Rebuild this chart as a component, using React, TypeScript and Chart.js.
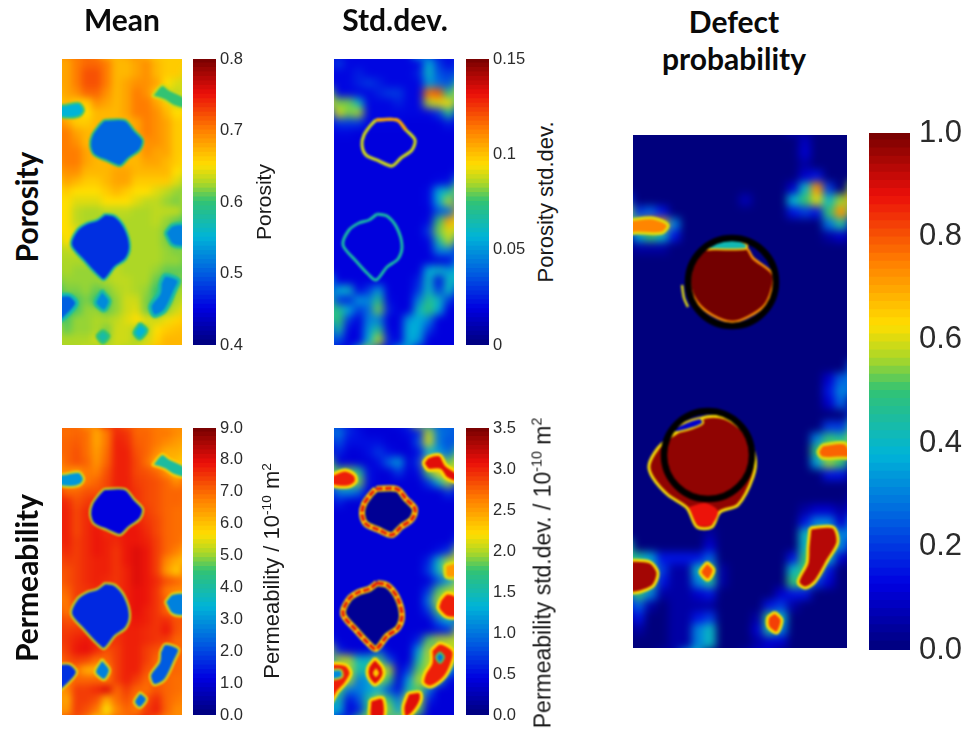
import React, { useEffect, useRef } from "react";
import { Chart, registerables } from "chart.js";
Chart.register(...registerables);

const porosityMean = [
[.68,.70,.71,.71,.70,.67,.67,.68,.69,.67,.66,.66],
[.68,.70,.72,.72,.70,.67,.67,.68,.69,.67,.66,.66],
[.68,.70,.72,.72,.70,.67,.68,.69,.69,.68,.65,.64],
[.68,.69,.71,.71,.69,.67,.68,.70,.69,.66,.64,.63],
[.67,.66,.66,.69,.68,.67,.68,.70,.70,.68,.66,.64],
[.66,.66,.65,.67,.67,.67,.68,.70,.70,.69,.67,.65],
[.68,.66,.66,.67,.67,.67,.67,.68,.70,.69,.68,.66],
[.70,.68,.67,.67,.67,.67,.67,.68,.70,.69,.68,.66],
[.70,.69,.67,.67,.67,.67,.67,.67,.69,.69,.68,.66],
[.70,.70,.68,.67,.67,.67,.67,.67,.69,.68,.68,.66],
[.70,.70,.68,.67,.67,.67,.67,.67,.68,.68,.67,.66],
[.69,.69,.67,.67,.67,.68,.68,.67,.67,.67,.67,.65],
[.68,.67,.66,.66,.67,.68,.68,.66,.66,.66,.66,.64],
[.66,.65,.65,.65,.66,.67,.66,.65,.65,.64,.63,.62],
[.65,.64,.64,.64,.65,.65,.65,.64,.63,.63,.62,.615],
[.65,.63,.625,.625,.63,.63,.63,.625,.625,.63,.63,.63],
[.65,.63,.625,.625,.625,.625,.625,.625,.625,.63,.62,.61],
[.65,.64,.625,.625,.625,.625,.625,.625,.625,.625,.615,.60],
[.65,.64,.625,.625,.625,.625,.625,.625,.625,.625,.615,.60],
[.63,.63,.625,.625,.625,.625,.625,.625,.625,.625,.62,.615],
[.625,.625,.625,.625,.63,.625,.625,.625,.625,.625,.62,.62],
[.625,.62,.62,.62,.625,.63,.625,.625,.625,.62,.61,.61],
[.62,.62,.62,.62,.625,.63,.63,.625,.625,.61,.60,.61],
[.615,.615,.62,.61,.615,.625,.63,.625,.62,.60,.60,.62],
[.60,.605,.615,.60,.605,.62,.635,.635,.615,.60,.605,.625],
[.60,.605,.62,.62,.61,.62,.635,.64,.615,.605,.62,.635],
[.605,.62,.62,.625,.625,.63,.64,.65,.64,.635,.645,.655],
[.61,.62,.62,.625,.615,.635,.635,.625,.625,.65,.66,.665],
[.625,.625,.625,.635,.62,.635,.635,.625,.635,.655,.67,.67],
];
const porosityStd = [
[.03,.02,.02,.02,.02,.02,.02,.02,.02,.055,.03,.02],
[.02,.02,.025,.02,.02,.02,.02,.02,.025,.06,.035,.03],
[.02,.02,.025,.03,.025,.02,.02,.02,.02,.05,.04,.035],
[.02,.02,.02,.02,.025,.03,.03,.02,.02,.115,.12,.07],
[.08,.08,.06,.02,.02,.02,.025,.02,.02,.085,.09,.095],
[.09,.08,.085,.02,.02,.02,.02,.02,.02,.02,.03,.07],
[.03,.03,.03,.02,.02,.02,.02,.018,.018,.018,.018,.025],
[.02,.02,.018,.018,.018,.018,.018,.018,.018,.018,.018,.018],
[.018,.018,.018,.018,.018,.018,.018,.018,.018,.018,.018,.018],
[.018,.018,.018,.018,.018,.018,.018,.018,.018,.018,.018,.018],
[.018,.018,.018,.018,.018,.018,.018,.018,.018,.018,.018,.018],
[.018,.018,.018,.018,.018,.018,.018,.018,.018,.018,.018,.018],
[.018,.018,.018,.018,.018,.018,.018,.018,.018,.018,.02,.022],
[.018,.018,.018,.018,.018,.018,.018,.018,.018,.02,.055,.065],
[.018,.018,.018,.018,.018,.018,.018,.018,.018,.02,.055,.085],
[.018,.018,.018,.018,.018,.018,.018,.018,.018,.018,.035,.04],
[.018,.018,.018,.018,.018,.018,.018,.018,.018,.02,.075,.105],
[.018,.018,.018,.018,.018,.018,.018,.018,.018,.03,.08,.09],
[.018,.018,.018,.018,.018,.018,.018,.018,.018,.02,.065,.085],
[.018,.018,.018,.018,.018,.018,.018,.018,.018,.018,.045,.045],
[.018,.018,.018,.018,.018,.018,.018,.018,.018,.018,.018,.02],
[.018,.018,.018,.018,.018,.018,.018,.018,.018,.055,.06,.05],
[.018,.018,.018,.018,.018,.018,.018,.018,.025,.06,.02,.06],
[.055,.06,.02,.03,.05,.018,.018,.018,.03,.06,.03,.06],
[.03,.025,.05,.045,.07,.02,.018,.018,.045,.07,.06,.03],
[.07,.055,.03,.04,.08,.025,.018,.018,.06,.075,.055,.018],
[.075,.03,.018,.045,.045,.018,.018,.05,.055,.045,.018,.018],
[.065,.02,.018,.05,.07,.02,.018,.055,.055,.03,.018,.018],
[.035,.018,.018,.055,.085,.025,.018,.055,.05,.018,.018,.018],
];
const permeabilityMean = [
[6.9,7.0,6.9,6.3,6.8,7.6,7.5,7.0,7.0,6.8,6.8,6.6],
[7.0,7.1,6.9,6.3,6.8,7.7,7.6,7.1,7.0,6.8,6.6,6.4],
[7.0,7.2,6.9,6.4,6.9,7.7,7.7,7.2,7.0,6.6,6.2,6.2],
[7.0,7.2,7.0,6.5,7.0,7.7,7.7,7.3,6.9,6.2,6.2,6.0],
[6.6,6.4,6.8,6.7,7.2,7.7,7.7,7.3,7.2,7.0,6.5,5.8],
[6.4,6.3,6.8,7.0,7.3,7.7,7.7,7.4,7.3,7.2,7.0,6.6],
[7.0,7.0,7.2,7.2,7.3,7.7,7.7,7.5,7.3,7.2,7.0,7.0],
[7.6,7.2,7.4,7.6,7.6,7.7,7.7,7.5,7.3,7.2,7.0,7.0],
[7.7,7.3,7.6,7.7,7.6,7.7,7.7,7.6,7.4,7.2,7.0,6.9],
[7.7,7.3,7.6,7.7,7.6,7.7,7.8,7.7,7.5,7.3,7.0,6.9],
[7.7,7.3,7.6,7.8,7.6,7.7,7.8,7.8,7.6,7.3,7.0,6.9],
[7.7,7.4,7.6,7.8,7.7,7.6,7.8,7.8,7.7,7.4,7.0,6.9],
[7.6,7.4,7.6,7.8,7.7,7.5,7.8,8.0,7.8,7.4,7.0,6.7],
[7.4,7.4,7.6,7.7,7.7,7.5,7.8,8.0,7.8,7.4,6.6,6.2],
[7.2,7.4,7.6,7.7,7.7,7.5,7.7,8.0,7.8,7.4,6.4,5.9],
[7.2,7.4,7.6,7.7,7.6,7.5,7.7,8.0,7.8,7.6,7.2,7.0],
[7.0,7.4,7.5,7.6,7.6,7.5,7.7,7.9,7.8,7.5,6.8,6.6],
[6.8,7.4,7.5,7.6,7.6,7.5,7.7,7.9,7.8,7.5,7.0,6.6],
[6.8,7.2,7.5,7.6,7.6,7.5,7.7,7.9,7.7,7.5,7.0,6.8],
[7.2,7.2,7.5,7.6,7.6,7.5,7.7,7.8,7.7,7.5,7.6,7.2],
[7.4,7.5,7.5,7.6,7.6,7.5,7.7,7.7,7.6,7.5,7.8,7.2],
[7.5,7.7,7.8,7.6,7.6,7.5,7.7,7.7,7.6,7.5,7.4,7.0],
[7.4,7.8,7.9,7.6,7.2,7.4,7.7,7.7,7.4,7.2,7.0,7.0],
[7.2,7.4,7.3,6.9,7.0,7.4,7.7,7.7,7.4,7.0,7.0,7.0],
[6.8,6.8,6.2,6.1,6.6,7.4,7.7,7.7,7.2,7.0,7.0,7.0],
[6.8,7.0,7.0,7.0,6.8,7.4,7.7,7.4,7.0,7.0,7.0,6.9],
[6.6,7.4,7.4,7.6,8.0,7.0,7.4,7.0,6.9,7.2,7.0,6.9],
[6.2,7.4,7.4,7.2,6.2,6.9,7.2,6.8,7.2,7.6,7.0,6.8],
[6.4,7.4,7.2,6.8,5.6,6.6,7.0,6.8,7.4,7.7,7.0,6.6],
];
const permeabilityStd = [
[1.0,.6,.5,.4,.4,.4,.4,.5,.6,2.0,1.0,.9],
[.8,.5,.5,.5,.5,.4,.4,.4,.8,2.1,1.0,.8],
[.6,.4,.4,.5,.7,.5,.4,.4,.5,1.3,1.2,.9],
[.4,.4,.4,.4,.5,.9,1.2,.4,.7,2.2,2.4,1.8],
[1.8,1.9,1.6,.5,.4,.4,.7,.4,.5,1.8,2.2,2.2],
[1.9,1.8,1.9,.5,.4,.4,.4,.4,.4,.7,1.4,2.0],
[1.0,1.1,.9,.4,.4,.4,.4,.4,.4,.4,.4,.7],
[.6,.4,.4,.4,.4,.4,.4,.4,.4,.4,.4,.4],
[.4,.4,.4,.4,.4,.4,.4,.4,.4,.4,.4,.4],
[.4,.4,.4,.4,.4,.4,.4,.4,.4,.4,.4,.4],
[.4,.4,.4,.4,.4,.4,.4,.4,.4,.4,.4,.4],
[.4,.4,.4,.4,.4,.4,.4,.4,.4,.4,.4,.4],
[.4,.4,.4,.4,.4,.4,.4,.4,.4,.4,.5,.7],
[.4,.4,.4,.4,.4,.4,.4,.4,.4,.6,1.4,2.0],
[.4,.4,.4,.4,.4,.4,.4,.4,.4,.7,1.4,2.1],
[.4,.4,.4,.4,.4,.4,.4,.4,.4,.4,.8,1.2],
[.4,.4,.4,.4,.4,.4,.4,.4,.4,.7,1.8,2.0],
[.4,.4,.4,.4,.4,.4,.4,.4,.4,1.0,2.0,2.0],
[.4,.4,.4,.4,.4,.4,.4,.4,.4,.7,1.8,2.0],
[.4,.4,.4,.4,.4,.4,.4,.4,.4,.4,.9,1.3],
[.4,.4,.4,.4,.4,.4,.4,.4,.4,.4,.5,.6],
[.4,.4,.4,.4,.4,.4,.4,.4,.6,1.8,2.0,2.0],
[.6,.4,.4,.4,.8,.4,.4,.4,1.2,2.0,1.0,2.0],
[2.0,2.0,1.4,1.4,1.8,.8,.4,.4,1.5,2.0,1.8,2.0],
[1.0,2.0,1.5,1.6,2.0,2.0,.4,.7,1.8,2.0,2.0,1.3],
[1.8,2.0,1.0,1.2,2.0,1.7,.4,1.2,2.0,2.0,1.6,.5],
[1.8,1.0,1.0,1.2,1.3,.8,.5,1.5,1.8,1.0,.4,.4],
[1.5,.5,.8,1.6,2.0,1.7,1.0,2.0,2.0,.6,.4,.4],
[1.3,.4,.6,1.7,2.0,1.9,1.2,2.0,1.8,.4,.4,.4],
];
const defectProbability = [
[0,0,0,0,0,0,0,0,0,0,0,0,0,0,.08,0,0,0],
[0,0,0,0,0,0,0,0,0,0,0,0,0,0,.1,0,0,0],
[0,0,0,0,0,0,0,0,0,0,0,0,0,0,.05,0,0,0],
[0,0,0,0,0,0,0,0,0,0,0,0,0,0,.1,.15,0,0],
[0,0,0,0,0,0,0,0,0,0,0,0,0,.1,.4,.72,.2,0],
[0,0,0,0,0,0,0,0,0,.07,0,0,0,.38,.5,.6,.4,.55],
[.2,.25,.15,0,0,0,0,0,0,0,0,0,0,.15,.2,.15,.5,.72],
[.55,.8,.7,.3,0,0,0,0,0,0,0,0,0,0,0,0,.28,.45],
[.35,.5,.4,.15,0,0,0,0,0,0,0,0,0,0,0,0,.05,.1],
[.05,.05,.05,0,0,0,0,0,0,0,0,0,0,0,0,0,0,0],
[0,0,0,0,0,0,0,0,0,0,0,0,0,0,0,0,0,0],
[0,0,0,0,0,0,0,0,0,0,0,0,0,0,0,0,0,0],
[0,0,0,0,0,0,0,0,0,0,0,0,0,0,0,0,0,0],
[0,0,0,0,0,0,0,0,0,0,0,0,0,0,0,0,0,0],
[0,0,0,0,0,0,0,0,0,0,0,0,0,0,0,0,0,0],
[0,0,0,0,0,0,0,0,0,0,0,0,0,0,0,0,0,0],
[0,0,0,0,0,0,0,0,0,0,0,0,0,0,0,0,0,0],
[0,0,0,0,0,0,0,0,0,0,0,0,0,0,0,0,0,0],
[0,0,0,0,0,0,0,0,0,0,0,0,0,0,0,0,0,0],
[0,0,0,0,0,0,0,0,0,0,0,0,0,0,0,0,0,0],
[0,0,0,0,0,0,0,0,0,0,0,0,0,0,0,0,.1,.25],
[0,0,0,0,0,0,0,0,0,0,0,0,0,0,0,0,.15,.3],
[0,0,0,0,0,0,0,0,0,0,0,0,0,0,0,0,.1,.25],
[0,0,0,0,0,0,0,0,0,0,0,0,0,0,0,0,0,0],
[0,0,0,0,0,0,0,0,0,0,0,0,0,0,0,0,.2,.2],
[0,0,0,0,0,0,0,0,0,0,0,0,0,0,0,.3,.5,.45],
[0,0,0,0,0,0,0,0,0,0,0,0,0,0,0,.5,.55,.55],
[0,0,0,0,0,0,0,0,0,0,0,0,0,0,0,.35,.55,.5],
[0,0,0,0,0,0,0,0,0,0,0,0,0,0,0,0,.15,.15],
[0,0,0,0,0,0,0,0,0,0,0,0,0,0,0,0,0,0],
[0,0,0,0,0,0,0,0,0,0,0,0,0,0,0,0,0,0],
[0,0,0,0,0,0,0,0,0,0,0,0,0,0,.05,.1,.1,.05],
[0,0,0,0,0,0,0,0,0,0,0,0,0,0,.15,.3,.3,.1],
[0,0,0,0,0,0,.05,0,0,0,0,0,0,0,.4,.5,.5,.3],
[0,0,0,0,0,0,.1,0,0,0,0,0,0,0,.4,.5,.5,.3],
[.45,.35,.15,.15,.15,.15,.25,0,0,0,0,0,0,.15,.5,.5,.4,.1],
[.5,.5,.2,.05,.05,.4,.5,.05,0,0,0,0,0,.4,.5,.5,.15,0],
[.5,.5,.15,.05,.05,.3,.45,.05,0,0,0,0,0,.5,.5,.2,.1,0],
[.5,.3,.05,.05,.05,.1,.15,0,0,0,0,0,.1,.15,.15,0,0,0],
[.25,.05,0,.05,.05,.05,.05,0,0,0,0,.15,.2,.05,0,0,0,0],
[.15,0,0,.05,.05,.15,.2,0,0,0,.05,.5,.4,0,0,0,0,0],
[.05,0,0,.05,.05,.3,.4,0,0,0,.1,.45,.3,0,0,0,0,0],
[0,0,0,.05,.05,.3,.4,0,0,0,.05,.1,.1,0,0,0,0,0],
];

const upperHole = [[42,61],[63,61],[72,71],[81,81],[78,91],[67,99],[58,107],[45,102],[32,96],[28,86],[30,76],[37,66],[42,61]];
const lowerHole = [[43,155],[53,157],[63,169],[68,187],[64,200],[53,208],[42,221],[34,215],[22,202],[9,186],[15,171],[25,164],[35,161],[43,155]];
const leftBlob = [[3,46],[17,44],[22,51],[18,57],[8,59],[-3,57],[-3,47],[3,46]];
const topRightBlob = [[90,37],[100,26],[108,31],[123,39],[123,49],[112,47],[102,41],[90,37]];
const rightMidBlob = [[103,174],[110,166],[123,166],[123,187],[110,186],[103,174]];
const rightLongBlob = [[98,224],[103,216],[117,221],[113,232],[103,252],[92,257],[88,247],[97,234],[98,224]];
const bottomLeftBlob = [[-3,236],[8,236],[15,244],[8,254],[-3,262],[-3,236]];
const middleBlob = [[40,231],[48,242],[42,252],[33,244],[40,231]];
const bottomSmallBlob = [[78,264],[85,271],[78,280],[72,274],[78,264]];
const bottomMidBlob = [[41,271],[47,277],[41,284],[35,277],[41,271]];

const spreadTopRight = [[89,35],[94,29],[106,27],[112,37],[123,45],[123,54],[112,50],[106,42],[94,42],[89,35]];
const spreadLeft = [[-3,47],[11,42],[21,47],[22,54],[14,59],[-3,57],[-3,47]];
const spreadRightMid = [[106,172],[113,165],[123,169],[123,189],[112,189],[104,180],[106,172]];
const spreadRightUp = [[111,137],[123,135],[123,149],[112,149],[111,137]];
const spreadLong = [[97,222],[106,215],[119,222],[119,232],[111,249],[97,259],[89,255],[91,245],[97,235],[97,222]];
const spreadLongCore = [[106,224],[110,229],[106,235],[102,229],[106,224]];
const spreadBottomLong = [[74,265],[86,264],[87,272],[79,285],[71,290],[69,279],[74,265]];
const spreadBottomMid = [[36,272],[49,270],[50,290],[36,290],[36,272]];
const spreadMiddle = [[41,230],[49,240],[49,249],[41,257],[34,249],[34,239],[41,230]];
const spreadMiddleCore = [[42,240],[45,245],[42,249],[39,245],[42,240]];
const spreadBottomLeft = [[-3,235],[12,237],[17,245],[12,255],[4,264],[-3,275],[-3,235]];
const spreadBottomLeftCore = [[-3,242],[7,242],[8,249],[-3,251],[-3,242]];

const upperDefect = [[69,115],[112,112],[120,123],[139,138],[140,150],[132,170],[115,182],[99,187],[79,180],[64,167],[57,150],[60,130],[69,115]];
const lowerDefect = [[37,302],[69,283],[92,283],[112,298],[122,322],[120,342],[105,370],[87,377],[79,392],[64,392],[54,373],[35,360],[20,343],[16,330],[25,313],[37,302]];
const lowerTip = [[56,372],[72,368],[85,376],[78,390],[65,390],[56,372]];
const upperCap = [[72,114],[85,105],[100,103],[114,110],[112,114],[72,114]];
const lowerCap = [[37,297],[47,290],[67,283],[70,288],[60,293],[45,297],[37,297]];
const leftArc = [[49,150],[51,163],[55,172]];
const defectLeftTop = [[-3,85],[20,83],[35,90],[29,98],[4,98],[-3,98],[-3,85]];
const defectRightUpper = [[189,310],[212,308],[218,322],[205,323],[189,323],[185,317],[189,310]];
const defectLong = [[177,393],[200,392],[205,407],[195,425],[182,447],[172,453],[165,447],[174,428],[175,412],[177,393]];
const defectLeftLow = [[-3,425],[17,427],[25,438],[19,452],[-3,457],[-3,425]];
const defectMiddle = [[74,427],[81,435],[75,445],[67,437],[74,427]];
const defectBottom = [[142,477],[149,485],[144,498],[135,492],[135,482],[142,477]];
const ringCenters = [[99,147],[75,320]];

const porosityTicks = ["0.4","0.5","0.6","0.7","0.8"];
const porosityStdTicks = ["0","0.05","0.1","0.15"];
const permTicks = ["0.0","1.0","2.0","3.0","4.0","5.0","6.0","7.0","8.0","9.0"];
const permStdTicks = ["0.0","0.5","1.0","1.5","2.0","2.5","3.0","3.5"];
const defectTicks = ["0.0","0.2","0.4","0.6","0.8","1.0"];

const STOPS: [number, number[]][] = [
  [0,[0,0,125]],[.125,[0,0,225]],[.25,[0,95,225]],[.375,[0,180,215]],[.5,[50,195,115]],
  [.56,[170,215,40]],[.625,[255,222,0]],[.75,[255,125,0]],[.875,[235,15,10]],[1,[115,0,0]],
];
function colorOf(v: number, lo: number, hi: number) {
  const t = Math.max(0, Math.min(1, (v - lo) / (hi - lo)));
  for (let i = 1; i < STOPS.length; i++) {
    if (t <= STOPS[i][0]) {
      const [a, ca] = STOPS[i - 1]; const [b, cb] = STOPS[i];
      const f = (t - a) / (b - a);
      return `rgb(${ca.map((c, k) => Math.round(c + (cb[k] - c) * f)).join(",")})`;
    }
  }
  return "rgb(115,0,0)";
}
const pts = (p: number[][]) => p.map(([x, y]) => ({ x, y }));

type Shape = { p: number[][]; fill?: number; line?: number; width?: number; dash?: number[] };

const MARGIN = 14;
function baseOptions(w: number, h: number): any {
  return {
    responsive: false, animation: false, events: [],
    layout: { padding: 0, autoPadding: false },
    plugins: { legend: { display: false }, tooltip: { enabled: false }, title: { display: false } },
    scales: {
      x: { type: "linear", display: false, min: -MARGIN, max: w + MARGIN },
      y: { type: "linear", display: false, min: -MARGIN, max: h + MARGIN, reverse: true },
    },
  };
}

function Panel({ left, top, w, h, grid, lo, hi, shapes, blur, rings }: any) {
  const a = useRef<HTMLCanvasElement>(null);
  const b = useRef<HTMLCanvasElement>(null);
  useEffect(() => {
    const rows = grid.length, cols = grid[0].length;
    const cw = w / cols, ch = h / rows;
    const side = Math.max(cw, ch) + 1;
    const cells: any[] = [], edge: any[] = [];
    grid.forEach((row: number[], r: number) => row.forEach((v, c) => {
      const cell = { x: (c + .5) * cw, y: (r + .5) * ch, color: colorOf(v, lo, hi) };
      cells.push(cell);
      if (r === 0 || c === 0 || r === rows - 1 || c === cols - 1) edge.push(cell);
    }));
    const heat = new Chart(a.current!, {
      type: "scatter",
      data: { datasets: [
        { data: edge, order: 2, pointStyle: "rect", pointRadius: (side * 3) / Math.SQRT2,
          pointBackgroundColor: edge.map((d) => d.color), pointBorderWidth: 0, clip: false },
        { data: cells, order: 1, pointStyle: "rect", pointRadius: side / Math.SQRT2,
          pointBackgroundColor: cells.map((d) => d.color), pointBorderWidth: 0, clip: false },
      ] as any },
      options: baseOptions(w, h),
    });
    const sets: any[] = shapes.map((s: Shape, i: number) => ({
      type: "line", data: pts(s.p), order: shapes.length - i + 2, pointRadius: 0, tension: .3,
      fill: s.fill !== undefined ? "shape" : false,
      backgroundColor: s.fill !== undefined ? colorOf(s.fill, lo, hi) : "transparent",
      borderColor: s.line !== undefined ? colorOf(s.line, lo, hi) : "transparent",
      borderWidth: s.line !== undefined ? (s.width ?? 2.2) : 0,
      borderDash: s.dash ?? [],
    }));
    if (rings) {
      sets.push({ type: "scatter", data: pts(rings), order: 0, showLine: false, pointRadius: 44,
        pointBackgroundColor: "transparent", pointBorderColor: "#000", pointBorderWidth: 6.5 });
    }
    const over = new Chart(b.current!, {
      type: "scatter", data: { datasets: sets }, options: baseOptions(w, h),
    });
    return () => { heat.destroy(); over.destroy(); };
  }, []);
  const cs: any = { position: "absolute", left: -MARGIN, top: -MARGIN };
  const wrap: any = { position: "absolute", left, top, width: w, height: h, overflow: "hidden" };
  return (
    <>
      <div style={wrap}>
        <canvas ref={a} width={w + 2 * MARGIN} height={h + 2 * MARGIN} style={{ ...cs, filter: `blur(${blur}px)` }} />
      </div>
      <div style={wrap}>
        <canvas ref={b} width={w + 2 * MARGIN} height={h + 2 * MARGIN} style={{ ...cs, filter: "blur(0.8px)" }} />
      </div>
    </>
  );
}

const BAR_PAD = 40;
function ColorBar({ left, top, w, h, lo, hi, ticks, size, pad, axisW }: any) {
  const a = useRef<HTMLCanvasElement>(null);
  useEffect(() => {
    const n = 64;
    const levels = Array.from({ length: n }, (_, i) => i);
    const c = new Chart(a.current!, {
      type: "bar",
      data: { labels: [""], datasets: levels.map((i) => ({
        data: [[lo + ((hi - lo) * i) / n, lo + ((hi - lo) * (i + 1.15)) / n]] as any,
        backgroundColor: colorOf(lo + ((hi - lo) * (i + .5)) / n, lo, hi),
        grouped: false, barPercentage: 1, categoryPercentage: 1, borderWidth: 0,
      })) as any },
      options: {
        responsive: false, animation: false, events: [],
        layout: { padding: { top: BAR_PAD, bottom: BAR_PAD, left: 0, right: 0 }, autoPadding: false },
        plugins: { legend: { display: false }, tooltip: { enabled: false } },
        scales: {
          x: { display: false },
          y: {
            position: "right", min: lo, max: hi,
            grid: { display: false, drawTicks: false }, border: { display: false },
            afterBuildTicks: (s: any) => { s.ticks = ticks.map((t: string) => ({ value: parseFloat(t) })); },
            afterFit: (s: any) => { s.width = axisW; },
            ticks: {
              autoSkip: false, maxRotation: 0, padding: pad, color: "#2b2b2b",
              font: { family: "'Liberation Sans'", size },
              callback: (_: any, i: number) => ticks[i],
            },
          },
        },
      } as any,
    });
    return () => c.destroy();
  }, []);
  return <canvas ref={a} width={w + axisW} height={h + 2 * BAR_PAD} style={{ position: "absolute", left, top: top - BAR_PAD }} />;
}

function Label({ cx, cy, rot, size, bold, children }: any) {
  return (
    <div style={{
      position: "absolute", left: cx, top: cy, whiteSpace: "nowrap", lineHeight: 1,
      transform: `translate(-50%,-50%) rotate(${rot ?? 0}deg)`, fontSize: size, color: bold ? "#0a0a0a" : "#1a1a1a",
      fontFamily: bold ? "Lato" : "'Liberation Sans'", fontWeight: bold ? 700 : 400,
    }}>{children}</div>
  );
}
const Sup = ({ children }: any) => <sup style={{ fontSize: "0.62em", lineHeight: 0 }}>{children}</sup>;

export default function App() {
  const meanP: Shape[] = [
    { p: leftBlob, fill: .55, line: .605 }, { p: topRightBlob, fill: .6, line: .635 },
    { p: upperHole, fill: .505, line: .6 }, { p: lowerHole, fill: .475, line: .58 },
    { p: rightMidBlob, fill: .52, line: .58, width: 3 }, { p: rightLongBlob, fill: .52, line: .575, width: 3.5 },
    { p: bottomLeftBlob, fill: .5, line: .57, width: 3.5 }, { p: middleBlob, fill: .525, line: .58, width: 3 },
    { p: bottomSmallBlob, fill: .55, line: .59, width: 3 }, { p: bottomMidBlob, fill: .575, line: .6, width: 3 },
  ];
  const meanK: Shape[] = [
    { p: leftBlob, fill: 3.0, line: 5.4 }, { p: topRightBlob, fill: 4.0, line: 5.8 },
    { p: upperHole, fill: 1.1, line: 5.2 }, { p: lowerHole, fill: 1.6, line: 5.2 },
    { p: rightMidBlob, fill: 2.7, line: 5.4 }, { p: rightLongBlob, fill: 2.2, line: 5.4 },
    { p: bottomLeftBlob, fill: 1.7, line: 5.4 }, { p: middleBlob, fill: 2.7, line: 5.4 },
    { p: bottomSmallBlob, fill: 2.5, line: 5.4 },
  ];
  const stdP: Shape[] = [
    { p: upperHole, line: .088, width: 3.2 },
    { p: upperHole.slice(0, 3), line: .105, width: 3.2 },
    { p: lowerHole, line: .066, width: 3 },
  ];
  const stdK: Shape[] = [
    { p: upperHole, fill: .1, line: 2.2, width: 6 },
    { p: upperHole, line: 3.1, width: 3, dash: [7, 2] },
    { p: lowerHole, fill: .1, line: 2.2, width: 6 },
    { p: lowerHole, line: 3.1, width: 3, dash: [7, 2] },
    { p: spreadTopRight, fill: 3.1, line: 2.2, width: 3 },
    { p: spreadLeft, fill: 3.0, line: 2.2, width: 3 },
    { p: spreadRightMid, fill: 3.0, line: 2.2, width: 3 },
    { p: spreadRightUp, fill: 2.5, line: 2.1, width: 3 },
    { p: spreadLong, fill: 3.0, line: 2.2, width: 3 },
    { p: spreadLongCore, fill: 1.0, line: 1.8, width: 2 },
    { p: spreadBottomLong, fill: 3.1, line: 2.2, width: 3 },
    { p: spreadBottomMid, fill: 3.1, line: 2.2, width: 3 },
    { p: spreadMiddle, fill: 3.1, line: 2.2, width: 3 },
    { p: spreadMiddleCore, fill: 2.3 },
    { p: spreadBottomLeft, fill: 3.0, line: 2.2, width: 3 },
    { p: spreadBottomLeftCore, fill: 1.1, line: 2.0, width: 2 },
  ];
  const defect: Shape[] = [
    { p: lowerDefect, fill: .97, line: .62, width: 3 },
    { p: lowerTip, fill: .87 },
    { p: upperDefect, fill: 1, line: .72, width: 2.5 },
    { p: upperCap, fill: .42, line: .66, width: 2 },
    { p: leftArc, line: .6, width: 2.5 },
    { p: lowerCap, fill: .1, line: .62, width: 2 },
    { p: defectLeftTop, fill: .74, line: .6, width: 3 },
    { p: defectRightUpper, fill: .78, line: .6, width: 3 },
    { p: defectLong, fill: .93, line: .62, width: 3 },
    { p: defectLeftLow, fill: .95, line: .62, width: 3 },
    { p: defectMiddle, fill: .8, line: .62, width: 3 },
    { p: defectBottom, fill: .82, line: .62, width: 3 },
  ];
  return (
    <div style={{ position: "absolute", left: 0, top: 0, width: 966, height: 729, overflow: "hidden", background: "#fff" }}>
      <Panel left={62} top={59} w={120} h={286} grid={porosityMean} lo={.4} hi={.8} shapes={meanP} blur={3.5} />
      <Panel left={334} top={59} w={120} h={286} grid={porosityStd} lo={0} hi={.15} shapes={stdP} blur={4.5} />
      <Panel left={62} top={428} w={120} h={287} grid={permeabilityMean} lo={0} hi={9} shapes={meanK} blur={3.5} />
      <Panel left={334} top={428} w={120} h={287} grid={permeabilityStd} lo={0} hi={3.5} shapes={stdK} blur={4.5} />
      <Panel left={633} top={135} w={214} h={513} grid={defectProbability} lo={0} hi={1} shapes={defect} blur={4.5} rings={ringCenters} />

      <ColorBar left={193} top={59} w={23} h={286} lo={.4} hi={.8} ticks={porosityTicks} size={16.5} pad={4} axisW={40} />
      <ColorBar left={466} top={59} w={23} h={286} lo={0} hi={.15} ticks={porosityStdTicks} size={16.5} pad={4} axisW={44} />
      <ColorBar left={193} top={428} w={23} h={287} lo={0} hi={9} ticks={permTicks} size={16.5} pad={4} axisW={40} />
      <ColorBar left={466} top={428} w={23} h={287} lo={0} hi={3.5} ticks={permStdTicks} size={16.5} pad={4} axisW={40} />
      <ColorBar left={869} top={133} w={41} h={517} lo={0} hi={1} ticks={defectTicks} size={31} pad={9} axisW={56} />

      <Label cx={263} cy={202} rot={-90} size={21}>Porosity</Label>
      <Label cx={546} cy={202} rot={-90} size={22}>Porosity std.dev.</Label>
      <Label cx={272} cy={571} rot={-90} size={22}>Permeability / 10<Sup>-10</Sup> m<Sup>2</Sup></Label>
      <Label cx={543} cy={573} rot={-90} size={23}>Permeability std.dev. / 10<Sup>-10</Sup> m<Sup>2</Sup></Label>

      <Label cx={122} cy={19} size={30} bold>Mean</Label>
      <Label cx={395} cy={19} size={30} bold>Std.dev.</Label>
      <Label cx={734} cy={21} size={30} bold>Defect</Label>
      <Label cx={734} cy={58} size={30} bold>probability</Label>
      <Label cx={26} cy={207} rot={-90} size={30} bold>Porosity</Label>
      <Label cx={26} cy={578} rot={-90} size={30} bold>Permeability</Label>
    </div>
  );
}
